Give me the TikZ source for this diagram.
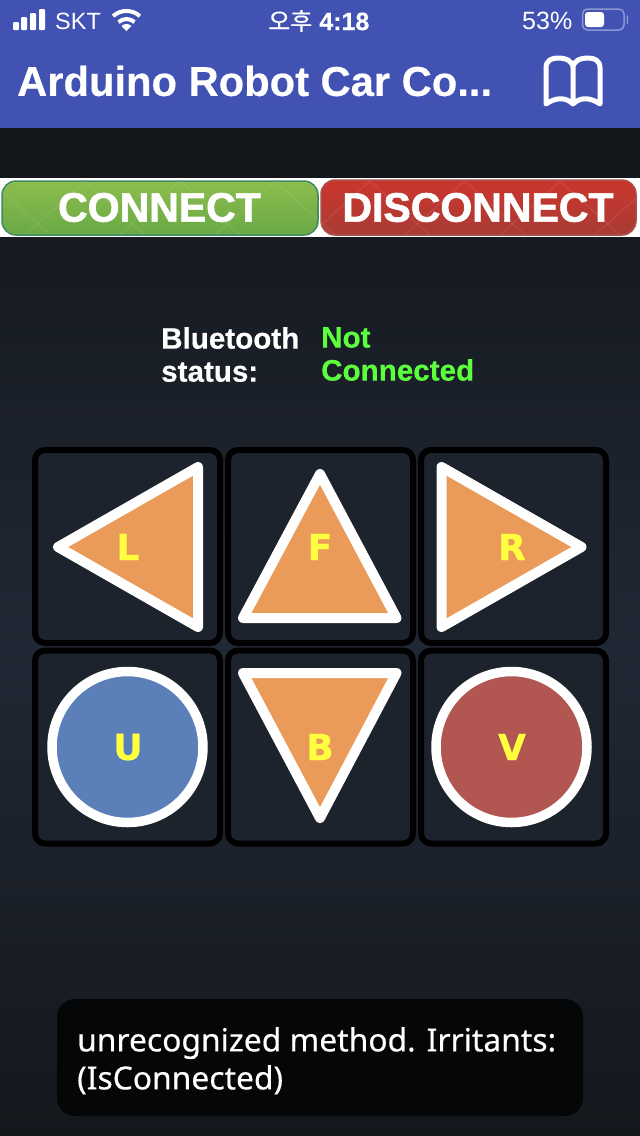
\documentclass[tikz,border=0pt]{standalone}
\usepackage{fontspec}
\setmainfont[BoldFeatures={FakeBold=0.4}]{Liberation Sans}
\newfontfamily\krfont[FakeBold=0.3]{Noto Sans CJK KR}
\newfontfamily\letterfont[BoldFeatures={FakeBold=0.6}]{DejaVu Sans}
\newfontfamily\toastfont[FakeBold=0.4]{Noto Sans}
\newfontfamily\bannerfont[BoldFeatures={FakeBold=1.6}]{Liberation Sans}
\usetikzlibrary{positioning}
\definecolor{barblue}{HTML}{4152B3}
\definecolor{batteryline}{HTML}{8C97CF}
\definecolor{cellfill}{HTML}{1C232C}
\definecolor{bgtop}{HTML}{13171C}
\definecolor{bgmid}{HTML}{212835}
\definecolor{bgbottom}{HTML}{14181D}
\definecolor{triorange}{HTML}{EA9B59}
\definecolor{upblue}{HTML}{5B7FB9}
\definecolor{vred}{HTML}{B15650}
\definecolor{letteryellow}{HTML}{FFFF40}
\definecolor{notgreen}{HTML}{5CFF3E}
\definecolor{toastfill}{HTML}{050608}
\definecolor{greentop}{HTML}{8DBD4E}
\definecolor{greenbottom}{HTML}{69A945}
\definecolor{greenedge}{HTML}{3F8A60}
\definecolor{redtop}{HTML}{CB362D}
\definecolor{redbottom}{HTML}{A93B35}
\definecolor{rededge}{HTML}{A8504A}

\begin{document}
\begin{tikzpicture}[x=1pt,y=-1pt,
    cellbox/.style={draw=black,line width=6pt,rounded corners=10pt,fill=cellfill,minimum width=185pt,minimum height=193pt,inner sep=0pt},
    tribtn/.style={draw=white,fill=triorange,line width=10pt,line join=round},
    roundbtn/.style={draw=white,line width=9.5pt,circle,minimum size=151pt,inner sep=0pt},
    letter/.style={text=letteryellow,font=\letterfont\bfseries\fontsize{36}{36}\selectfont,inner sep=0pt},
    statustext/.style={font=\bfseries\fontsize{29.6}{33}\selectfont,align=left,anchor=north west,inner sep=0pt},
    topbar/.style={text=white,inner sep=0pt,anchor=west,font=\fontsize{25}{25}\selectfont},
    bannerbtn/.style={rounded corners=14pt,line width=1.5pt},
    bannertext/.style={text=white,font=\bannerfont\bfseries\fontsize{41}{41}\selectfont,inner sep=0pt},
    bannerline/.style={white,opacity=.09,line width=1pt}
  ]
  \useasboundingbox (0,0) rectangle (640,1136);
  % background
  \shade[top color=bgtop,bottom color=bgmid] (0,128) rectangle (640,647);
  \shade[top color=bgmid,bottom color=bgbottom] (0,646) rectangle (640,1136);
  \fill[barblue] (0,0) rectangle (640,128);
  \fill[bgtop] (0,128) rectangle (640,178);
  \fill[white] (0,178) rectangle (640,237);
  % status bar
  \foreach \bx/\by in {13/22,21/17,30/13,39/9}
    \fill[white,rounded corners=1pt] (\bx,\by) rectangle (\bx+6,30);
  \node[topbar,font=\fontsize{23.5}{24}\selectfont] (carrier) at (55,21) {SKT};
  \begin{scope}[white,line width=4pt]
    \draw (113.1,16.1) arc[start angle=228,end angle=312,radius=20];
    \draw (118.5,22.1) arc[start angle=228,end angle=312,radius=12];
    \fill (126.5,31) -- (121.5,26) arc[start angle=225,end angle=315,radius=7] -- cycle;
  \end{scope}
  \node[topbar] (clock) at (268,21) {{\krfont\fontsize{24}{24}\selectfont 오후} \textbf{4:18}};
  \node[topbar] (percent) at (522,21) {53\%};
  \draw[batteryline,line width=1.5pt,rounded corners=5pt] (582.5,9) rectangle (624,30);
  \fill[white,rounded corners=3pt] (585,12) rectangle (604,27);
  \fill[batteryline,rounded corners=1pt] (626.5,15) rectangle (628,24);
  % title bar
  \node[topbar,font=\bfseries\fontsize{41.7}{41.7}\selectfont] (title) at (17,81) {Arduino Robot Car Co...};
  \draw[white,line width=5pt,line join=round,line cap=round]
    (573,104) .. controls (566,97) and (556,97) .. (546,104) -- (546,68)
    .. controls (546,60) and (552,58) .. (558,58) .. controls (566,58) and (573,61) .. (573,68) -- (573,104)
    .. controls (580,97) and (590,97) .. (600,104) -- (600,68)
    .. controls (600,60) and (594,58) .. (588,58) .. controls (580,58) and (573,61) .. (573,68);
  % banner buttons
  \shade[bannerbtn,top color=greentop,bottom color=greenbottom,draw=greenedge] (2,181) rectangle (318,235);
  \shade[bannerbtn,top color=redtop,bottom color=redbottom,draw=rededge] (321,180) rectangle (636,235);
  \begin{scope}
    \clip[rounded corners=14pt] (2,181) rectangle (636,235);
    \foreach \lx in {-10,85,180,275,370,465,560,655} {
      \draw[bannerline] (\lx,181) -- (\lx+60,235);
      \draw[bannerline] (\lx,181) -- (\lx-60,235);
    }
  \end{scope}
  \node[bannertext] (connect) at (159.5,207.5) {CONNECT};
  \node[bannertext] (disconnect) at (478,207.5) {DISCONNECT};
  % bluetooth status
  \node[statustext,text=white] (btlabel) at (161,327) {Bluetooth\\status:};
  \node[statustext,text=notgreen] (btvalue) at (321,327) {Not\\Connected};
  % control pad
  \node[cellbox] (cellL) at (127.5,546.5) {};
  \node[cellbox,right=2pt of cellL] (cellF) {};
  \node[cellbox,right=2pt of cellF] (cellR) {};
  \node[cellbox,below=1.5pt of cellL] (cellU) {};
  \node[cellbox,right=2pt of cellU] (cellB) {};
  \node[cellbox,right=2pt of cellB] (cellV) {};
  \draw[tribtn] (58,547) -- (198,467) -- (198,627) -- cycle;
  \draw[tribtn] (320,474) -- (396.5,618) -- (243,618) -- cycle;
  \draw[tribtn] (581.5,547) -- (441.5,467) -- (441.5,627) -- cycle;
  \draw[tribtn] (243,673) -- (396.5,673) -- (320,818) -- cycle;
  \node[roundbtn,fill=upblue] (btnU) at (127.5,747) {};
  \node[roundbtn,fill=vred] (btnV) at (511.5,747) {};
  \node[letter] (labelL) at (128,547) {L};
  \node[letter] (labelF) at (320,547) {F};
  \node[letter] (labelR) at (512,547) {R};
  \node[letter] (labelU) at (128,747) {U};
  \node[letter] (labelB) at (320,747) {B};
  \node[letter] (labelV) at (512,747) {V};
  % message
  \fill[toastfill,rounded corners=18pt] (57,999) rectangle (583,1116);
  \node[anchor=north west,inner sep=0pt,text=white,align=left,font=\toastfont\fontsize{31.8}{38}\selectfont] (toast) at (77,1027) {unrecognized method. Irritants:\\(IsConnected)};
\end{tikzpicture}
\end{document}
